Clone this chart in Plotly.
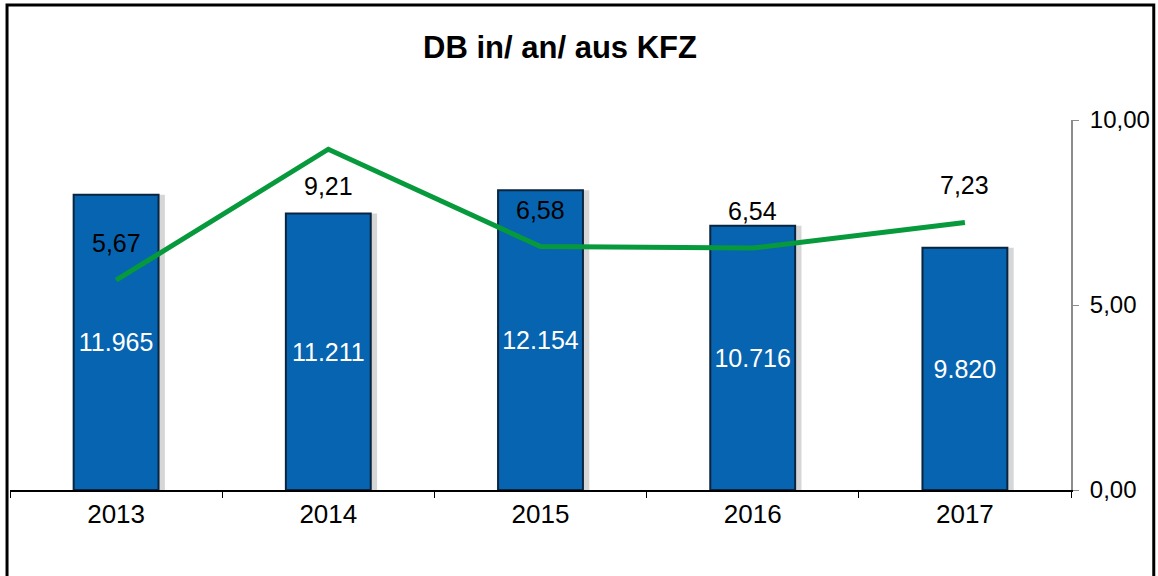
import plotly.graph_objects as go

years = ["2013", "2014", "2015", "2016", "2017"]
bar_values = [11965, 11211, 12154, 10716, 9820]
line_values = [5.67, 9.21, 6.58, 6.54, 7.23]
label_pos = ["top", "bottom", "top", "top", "top"]
title = "DB in/ an/ aus KFZ"

FONT = "Liberation Sans, Arial, sans-serif"

fig = go.Figure()
# soft shadow behind bars
fig.add_trace(go.Bar(
    x=years, y=bar_values, width=0.42, offset=-0.19,
    marker=dict(color="rgba(0,0,0,0.16)", line=dict(width=0)),
    hoverinfo="skip", showlegend=False,
))
fig.add_trace(go.Bar(
    x=years, y=bar_values, width=0.4, offset=-0.2,
    marker=dict(color="#0764B0", line=dict(color="#0A2540", width=2)),
    texttemplate="%{y:,}", textposition="inside", insidetextanchor="middle",
    textfont=dict(color="white", size=25, family=FONT),
    hoverinfo="skip", showlegend=False,
))
fig.add_trace(go.Scatter(
    x=years, y=line_values, yaxis="y2", mode="lines",
    line=dict(color="#079A3C", width=5), showlegend=False,
))
for i, (v, p) in enumerate(zip(line_values, label_pos)):
    fig.add_annotation(
        x=i, y=v, yref="y2", text=f"{v:.2f}".replace(".", ","),
        showarrow=False, yshift=37 if p == "top" else -37,
        font=dict(size=25, color="black", family=FONT),
    )

# outer frame
fig.add_shape(type="rect", xref="paper", yref="paper",
              x0=-0.0028, x1=1.078, y0=-0.3, y1=1.311,
              line=dict(color="black", width=3), layer="above")

fig.update_layout(
    width=1158, height=576,
    margin=dict(l=10, r=87, t=120, b=86, autoexpand=False),
    paper_bgcolor="white", plot_bgcolor="white",
    separators=",.",
    barmode="overlay",
    title=dict(text=f"<b>{title}</b>", x=0.4836, xanchor="center", y=0.918, yanchor="middle",
               font=dict(size=31, color="black", family=FONT)),
    xaxis=dict(type="category", range=[-0.5, 4.5], showline=True, linecolor="black",
               linewidth=2, ticks="outside",
               tickson="boundaries", ticklen=6, tickcolor="black", automargin=False,
               tickfont=dict(size=26, color="black", family=FONT), showgrid=False),
    yaxis=dict(range=[0, 15000], dtick=15000, showticklabels=False, showgrid=True,
               gridcolor="#8C8C8C", gridwidth=2, zeroline=False, fixedrange=True,
               automargin=False),
    yaxis2=dict(range=[0, 10], overlaying="y", side="right", dtick=5, tickformat=".2f",
                showline=True, linecolor="#8C8C8C", linewidth=2, ticks="outside",
                ticklen=6, tickcolor="#8C8C8C", showgrid=False, zeroline=False,
                automargin=False, ticklabelstandoff=6,
                tickfont=dict(size=24, color="black", family=FONT)),
)

fig.write_html("out.html", config={"displayModeBar": False},
               post_script="document.body.style.margin='0';")
